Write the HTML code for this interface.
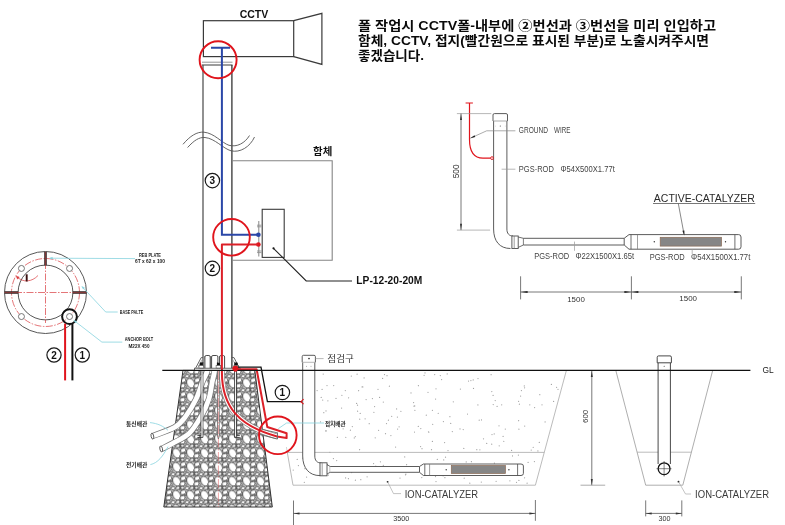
<!DOCTYPE html>
<html lang="ko"><head><meta charset="utf-8"><title>CCTV pole grounding diagram</title>
<style>
html,body{margin:0;padding:0;background:#fff;}
body{width:785px;height:525px;overflow:hidden;font-family:"Liberation Sans",sans-serif;}
svg{display:block;filter:blur(0.35px);}
</style></head><body>
<svg width="785" height="525" viewBox="0 0 785 525">
<rect width="785" height="525" fill="#fff"/>
<text x="358" y="29.6" font-size="13" font-family="'Liberation Sans', 'Noto Sans CJK KR', sans-serif" font-weight="bold" fill="#0a0a0a" textLength="358" lengthAdjust="spacingAndGlyphs">폴 작업시 CCTV폴-내부에 ②번선과 ③번선을 미리 인입하고</text>
<text x="358" y="44.9" font-size="13" font-family="'Liberation Sans', 'Noto Sans CJK KR', sans-serif" font-weight="bold" fill="#0a0a0a" textLength="351" lengthAdjust="spacingAndGlyphs">함체, CCTV, 접지(빨간원으로 표시된 부분)로 노출시켜주시면</text>
<text x="358" y="60.2" font-size="13" font-family="'Liberation Sans', 'Noto Sans CJK KR', sans-serif" font-weight="bold" fill="#0a0a0a" textLength="66" lengthAdjust="spacingAndGlyphs">좋겠습니다.</text>
<text x="254" y="17.8" font-size="10.5" font-family="Liberation Sans, sans-serif" font-weight="bold" fill="#111" text-anchor="middle" textLength="28.6" lengthAdjust="spacingAndGlyphs" >CCTV</text>
<rect x="203.4" y="20.7" width="90.3" height="35.9" stroke="#3a3a3a" stroke-width="1.2" fill="none" />
<path d="M293.7 20.7 L321.9 13.4 L321.9 64.4 L293.7 56.6" stroke="#3a3a3a" stroke-width="1.2" fill="none" />
<line x1="202" y1="62.2" x2="232.5" y2="62.2" stroke="#888" stroke-width="0.9" />
<line x1="202" y1="65" x2="232.5" y2="65" stroke="#3a3a3a" stroke-width="1" />
<line x1="203.0" y1="65" x2="203.0" y2="370" stroke="#555" stroke-width="1.3" />
<line x1="231.9" y1="65" x2="231.9" y2="370" stroke="#333" stroke-width="1.3" />
<path d="M183 144.3 C190 136 197 131.5 204 132.2 C214 133 222 143 229 145.3 C237 147.5 245 143 249.5 135.5" stroke="#555" stroke-width="0.9" fill="none" />
<path d="M187.6 147.5 C194 140.5 199 137 205 137.5 C215 138.5 223 148.5 231 150.8 C240 153 250 147 254.5 137" stroke="#555" stroke-width="0.9" fill="none" />
<path d="M231.9 160.7 L332.2 160.7 L332.2 260.3 L231.9 260.3" stroke="#858585" stroke-width="1.1" fill="none" />
<text x="313" y="155" font-size="10" font-family="'Liberation Sans', 'Noto Sans CJK KR', sans-serif" font-weight="bold" fill="#111" textLength="19.3" lengthAdjust="spacingAndGlyphs">함체</text>
<rect x="262.2" y="209.3" width="22" height="48.1" stroke="#3a3a3a" stroke-width="1.1" fill="#fff" />
<line x1="258.8" y1="221" x2="258.8" y2="256.5" stroke="#888" stroke-width="1" />
<line x1="257" y1="225.2" x2="261.5" y2="225.2" stroke="#888" stroke-width="0.8" />
<line x1="257" y1="226.8" x2="261.5" y2="226.8" stroke="#888" stroke-width="0.8" />
<line x1="257" y1="251" x2="261.5" y2="251" stroke="#888" stroke-width="0.8" />
<line x1="257" y1="252.6" x2="261.5" y2="252.6" stroke="#888" stroke-width="0.8" />
<circle cx="273.5" cy="248.3" r="1.1" stroke="#111" stroke-width="0" fill="#111" />
<path d="M273.5 248.3 L306.2 281 L352 281" stroke="#222" stroke-width="1.1" fill="none" />
<text x="356.3" y="284.1" font-size="10" font-family="Liberation Sans, sans-serif" font-weight="bold" fill="#111" text-anchor="start" textLength="66" lengthAdjust="spacingAndGlyphs" >LP-12-20-20M</text>
<path d="M211 47.8 H230.1 M221.9 47.8 V234.8 H258.4" stroke="#2b47a8" stroke-width="2.0" fill="none" />
<circle cx="258.4" cy="234.8" r="2.3" stroke="#2b47a8" stroke-width="0" fill="#2b47a8" />
<circle cx="258.4" cy="244.5" r="2.3" stroke="#e0141c" stroke-width="0" fill="#e0141c" />
<circle cx="212.4" cy="180.6" r="7.2" stroke="#1a1a1a" stroke-width="1.2" fill="#fff" />
<text x="212.4" y="184.2" font-size="10" font-family="Liberation Sans, sans-serif" font-weight="bold" fill="#111" text-anchor="middle" >3</text>
<circle cx="212.4" cy="268.4" r="7.2" stroke="#1a1a1a" stroke-width="1.2" fill="#fff" />
<text x="212.4" y="272.0" font-size="10" font-family="Liberation Sans, sans-serif" font-weight="bold" fill="#111" text-anchor="middle" >2</text>
<defs>
<pattern id="peb" x="3.2" y="-1.7" width="14" height="14" patternUnits="userSpaceOnUse">
<rect width="14" height="14" fill="#d4d4d4"/>
<g fill="#fff" stroke="#262626" stroke-width="0.72">
<ellipse cx="5.50" cy="7.00" rx="3.7" ry="5.2" transform="rotate(-28 5.50 7.00)"/>
<ellipse cx="19.50" cy="7.00" rx="3.7" ry="5.2" transform="rotate(-28 19.50 7.00)"/>
<ellipse cx="-2.00" cy="4.00" rx="2.8" ry="2.3" transform="rotate(-25 -2.00 4.00)"/>
<ellipse cx="12.00" cy="4.00" rx="2.8" ry="2.3" transform="rotate(-25 12.00 4.00)"/>
<ellipse cx="-2.60" cy="9.60" rx="2.8" ry="2.3" transform="rotate(-25 -2.60 9.60)"/>
<ellipse cx="11.40" cy="9.60" rx="2.8" ry="2.3" transform="rotate(-25 11.40 9.60)"/>
<ellipse cx="2.00" cy="-0.10" rx="2.1" ry="1.6" transform="rotate(-20 2.00 -0.10)"/>
<ellipse cx="2.00" cy="13.90" rx="2.1" ry="1.6" transform="rotate(-20 2.00 13.90)"/>
<ellipse cx="16.00" cy="-0.10" rx="2.1" ry="1.6" transform="rotate(-20 16.00 -0.10)"/>
<ellipse cx="16.00" cy="13.90" rx="2.1" ry="1.6" transform="rotate(-20 16.00 13.90)"/>
<ellipse cx="6.80" cy="-0.40" rx="2.2" ry="1.6" transform="rotate(-20 6.80 -0.40)"/>
<ellipse cx="6.80" cy="13.60" rx="2.2" ry="1.6" transform="rotate(-20 6.80 13.60)"/>
<ellipse cx="11.30" cy="-0.50" rx="1.9" ry="1.5" transform="rotate(-10 11.30 -0.50)"/>
<ellipse cx="11.30" cy="13.50" rx="1.9" ry="1.5" transform="rotate(-10 11.30 13.50)"/>
<ellipse cx="0.60" cy="10.60" rx="1.1" ry="0.9"/>
<ellipse cx="14.60" cy="10.60" rx="1.1" ry="0.9"/>
<ellipse cx="9.20" cy="1.20" rx="1.0" ry="0.8"/>
<ellipse cx="9.20" cy="15.20" rx="1.0" ry="0.8"/>
<ellipse cx="8.90" cy="11.80" rx="0.9" ry="0.8"/>
<ellipse cx="0.00" cy="6.90" rx="0.8" ry="0.7"/>
<ellipse cx="14.00" cy="6.90" rx="0.8" ry="0.7"/>
</g>
</pattern>
</defs>
<path d="M183 370.4 L254.8 370.4 L272.3 507 L163.8 507 Z" fill="url(#peb)" stroke="#333" stroke-width="1"/>
<path d="M221.9 356 V372 C221.9 407.9 240 426.4 277 436.5" fill="none" stroke="#888" stroke-width="5.6" stroke-linecap="butt"/>
<path d="M221.9 356 V372 C221.9 407.9 240 426.4 277 436.5" fill="none" stroke="#fff" stroke-width="4.2" stroke-linecap="butt"/>
<path d="M214.7 356.0 C214.7 358.3 215.1 365.6 214.7 370.0 C214.3 374.4 213.2 377.2 212.2 382.1 C211.2 387.0 210.7 393.5 208.8 399.2 C207.0 404.9 204.4 410.7 201.1 416.4 C197.8 422.1 193.8 429.0 189.1 433.5 C184.4 438.0 177.4 440.7 172.7 443.3 C168.0 445.9 162.9 448.3 161.0 449.3" fill="none" stroke="#777" stroke-width="6.2" stroke-linecap="butt"/>
<path d="M214.7 356.0 C214.7 358.3 215.1 365.6 214.7 370.0 C214.3 374.4 213.2 377.2 212.2 382.1 C211.2 387.0 210.7 393.5 208.8 399.2 C207.0 404.9 204.4 410.7 201.1 416.4 C197.8 422.1 193.8 429.0 189.1 433.5 C184.4 438.0 177.4 440.7 172.7 443.3 C168.0 445.9 162.9 448.3 161.0 449.3" fill="none" stroke="#fff" stroke-width="4.8" stroke-linecap="butt"/>
<path d="M207.5 356.0 C207.5 358.3 208.4 365.6 207.5 370.0 C206.6 374.4 204.2 377.2 202.3 382.1 C200.4 387.0 198.8 393.5 196.0 399.2 C193.2 404.9 189.2 411.7 185.7 416.4 C182.1 421.1 180.3 423.9 174.7 427.2 C169.1 430.5 155.9 434.7 152.2 436.2" fill="none" stroke="#777" stroke-width="6.2" stroke-linecap="butt"/>
<path d="M207.5 356.0 C207.5 358.3 208.4 365.6 207.5 370.0 C206.6 374.4 204.2 377.2 202.3 382.1 C200.4 387.0 198.8 393.5 196.0 399.2 C193.2 404.9 189.2 411.7 185.7 416.4 C182.1 421.1 180.3 423.9 174.7 427.2 C169.1 430.5 155.9 434.7 152.2 436.2" fill="none" stroke="#fff" stroke-width="4.8" stroke-linecap="butt"/>
<ellipse cx="152.4" cy="436.2" rx="1.3" ry="3" transform="rotate(-12 152.4 436.2)" fill="#fff" stroke="#555" stroke-width="0.9"/>
<ellipse cx="161.2" cy="449" rx="1.3" ry="3" transform="rotate(-12 161.2 449)" fill="#fff" stroke="#555" stroke-width="0.9"/>
<path d="M204.9 370 V357 Q204.9 355.5 206.20000000000002 355.5 H208.89999999999998 Q210.2 355.5 210.2 357 V370" fill="#fff" stroke="#4a4a4a" stroke-width="1"/>
<path d="M211.6 370 V357 Q211.6 355.5 212.9 355.5 H216.6 Q217.9 355.5 217.9 357 V370" fill="#fff" stroke="#4a4a4a" stroke-width="1"/>
<path d="M219.6 370 V357 Q219.6 355.5 220.9 355.5 H223.29999999999998 Q224.6 355.5 224.6 357 V370" fill="#fff" stroke="#4a4a4a" stroke-width="1"/>
<path d="M202.9 362 V437.4 H197.4" fill="none" stroke="#333" stroke-width="0.9"/>
<path d="M201.1 362 V435.4 H197.4" fill="none" stroke="#333" stroke-width="0.9"/>
<rect x="201.5" y="371" width="1" height="65.5" fill="#fff"/>
<path d="M234.5 362 V437.4 H239.8" fill="none" stroke="#333" stroke-width="0.9"/>
<path d="M236.3 362 V435.4 H239.8" fill="none" stroke="#333" stroke-width="0.9"/>
<rect x="234.9" y="371" width="1" height="65.5" fill="#fff"/>
<path d="M217.5 362 V436 L218.4 439 L219.3 436 V362" fill="#fff" stroke="#555" stroke-width="0.7"/>
<line x1="218.4" y1="371" x2="218.4" y2="507" stroke="#e06a6c" stroke-width="0.6" stroke-dasharray="9 1.5 1.5 1.5"/>
<path d="M195.6 368.2 L201.2 357.6 H203 M231.6 357.6 H234 L239.4 368.2" stroke="#555" stroke-width="0.9" fill="none" />
<path d="M197.6 368.2 L202.3 359.4 M232.6 359.4 L237.4 368.2" stroke="#888" stroke-width="0.7" fill="none" />
<rect x="194.6" y="368.2" width="45.6" height="2.2" stroke="#444" stroke-width="0.8" fill="#fff" />
<rect x="199.8" y="362.6" width="3" height="3" fill="#111"/>
<rect x="199.0" y="365.6" width="4.6" height="2.4" fill="#fff" stroke="#555" stroke-width="0.6"/>
<rect x="216.9" y="362.6" width="3" height="3" fill="#111"/>
<rect x="216.1" y="365.6" width="4.6" height="2.4" fill="#fff" stroke="#555" stroke-width="0.6"/>
<rect x="234.7" y="362.6" width="3" height="3" fill="#111"/>
<rect x="233.89999999999998" y="365.6" width="4.6" height="2.4" fill="#fff" stroke="#555" stroke-width="0.6"/>
<path d="M258.4 244.5 H221.9 V372 C221.9 407.9 240 426.4 277 436.5 L286.6 438 V433.3 L267.3 427 L256.6 369.2 H235.4" stroke="#dc2028" stroke-width="2.0" fill="none" stroke-linejoin="round"/>
<path d="M260.5 429 L277.6 432.9 M261.5 434.9 L277.2 439 M277.5 432.6 V439.2" stroke="#666" stroke-width="0.9" fill="none" />
<path d="M235.4 367.2 H261 L267.4 401.7 H302" stroke="#111" stroke-width="1.3" fill="none" />
<circle cx="235.4" cy="368.6" r="2.8" stroke="#e0141c" stroke-width="0" fill="#e0141c" />
<circle cx="282.4" cy="392.5" r="7.2" stroke="#1a1a1a" stroke-width="1.2" fill="#fff" />
<text x="282.4" y="396.1" font-size="10" font-family="Liberation Sans, sans-serif" font-weight="bold" fill="#111" text-anchor="middle" >1</text>
<path d="M150 422.6 C158 423.5 163 426 168 430.3" stroke="#86d3de" stroke-width="0.8" fill="none" />
<path d="M150.4 464.6 C158 463 163 456 168 446.7" stroke="#86d3de" stroke-width="0.8" fill="none" />
<text x="126" y="426.2" font-size="5.4" font-family="'Liberation Sans', 'Noto Sans CJK KR', sans-serif" font-weight="bold" fill="#1a1a1a" textLength="21.3" lengthAdjust="spacingAndGlyphs">통신배관</text>
<text x="126" y="467.2" font-size="5.4" font-family="'Liberation Sans', 'Noto Sans CJK KR', sans-serif" font-weight="bold" fill="#1a1a1a" textLength="21.3" lengthAdjust="spacingAndGlyphs">전기배관</text>
<text x="325" y="425.9" font-size="5.4" font-family="'Liberation Sans', 'Noto Sans CJK KR', sans-serif" font-weight="bold" fill="#1a1a1a" textLength="20.6" lengthAdjust="spacingAndGlyphs">접지배관</text>
<circle cx="45.5" cy="292.5" r="41" stroke="#444" stroke-width="0.9" fill="none" />
<circle cx="45.5" cy="292.5" r="27.4" stroke="#444" stroke-width="0.9" fill="none" />
<circle cx="45.5" cy="292.5" r="34" stroke="#d83a3e" stroke-width="0.7" fill="none" stroke-dasharray="7 1.5 1.5 1.5"/>
<line x1="45.5" y1="262" x2="45.5" y2="323" stroke="#d83a3e" stroke-width="0.7" stroke-dasharray="7 1.5 1.5 1.5"/>
<line x1="15" y1="292.5" x2="76" y2="292.5" stroke="#d83a3e" stroke-width="0.7" stroke-dasharray="7 1.5 1.5 1.5"/>
<line x1="45.5" y1="251.8" x2="45.5" y2="265.4" stroke="#3a2a2a" stroke-width="2.6" />
<line x1="45.5" y1="251.8" x2="45.5" y2="265.4" stroke="#b04040" stroke-width="0.6" />
<line x1="4.6" y1="292.5" x2="18.2" y2="292.5" stroke="#3a2a2a" stroke-width="2.6" />
<line x1="4.6" y1="292.5" x2="18.2" y2="292.5" stroke="#b04040" stroke-width="0.6" />
<line x1="72.8" y1="292.5" x2="86.4" y2="292.5" stroke="#3a2a2a" stroke-width="2.6" />
<line x1="72.8" y1="292.5" x2="86.4" y2="292.5" stroke="#b04040" stroke-width="0.6" />
<circle cx="21.45" cy="268.45" r="3" stroke="#555" stroke-width="0.8" fill="#fff" />
<circle cx="69.55" cy="268.45" r="3" stroke="#555" stroke-width="0.8" fill="#fff" />
<circle cx="21.45" cy="316.55" r="3" stroke="#555" stroke-width="0.8" fill="#fff" />
<circle cx="69.55" cy="316.55" r="3" stroke="#555" stroke-width="0.8" fill="#fff" />
<path d="M38 275.5 C32 282 23 283 16.5 276.5" stroke="#d83a3e" stroke-width="0.7" fill="none" />
<path d="M16.2 276.2 L19.3 277 L17.5 279.2 Z" stroke="#d83a3e" stroke-width="0.4" fill="#d83a3e" />
<line x1="26.7" y1="274.3" x2="26.7" y2="281.5" stroke="#3a1010" stroke-width="1.9" />
<circle cx="69.5" cy="316.6" r="7.4" stroke="#111" stroke-width="2" fill="none" />
<line x1="65.1" y1="323.6" x2="65.1" y2="380.4" stroke="#e0141c" stroke-width="2" />
<line x1="72.4" y1="323.6" x2="72.4" y2="380.4" stroke="#111" stroke-width="2" />
<circle cx="54" cy="355" r="7.1" stroke="#1a1a1a" stroke-width="1.2" fill="#fff" />
<text x="54" y="358.6" font-size="10" font-family="Liberation Sans, sans-serif" font-weight="bold" fill="#111" text-anchor="middle" >2</text>
<circle cx="82.3" cy="355" r="7.1" stroke="#1a1a1a" stroke-width="1.2" fill="#fff" />
<text x="82.3" y="358.6" font-size="10" font-family="Liberation Sans, sans-serif" font-weight="bold" fill="#111" text-anchor="middle" >1</text>
<path d="M49.8 258.2 L135 258.6" stroke="#86d3de" stroke-width="0.8" fill="none" />
<path d="M82 286.6 L105.7 312 H117.7" stroke="#86d3de" stroke-width="0.8" fill="none" />
<path d="M73.9 320.4 L101.9 342.1 H122.3" stroke="#86d3de" stroke-width="0.8" fill="none" />
<path d="M49.8 258.2 l2.6 -0.9 v1.9 z M82 286.6 l2.5 1.2 l-1.4 1.3 z M73.9 320.4 l2.7 0.8 l-1.2 1.5 z" stroke="#86d3de" stroke-width="0.4" fill="#86d3de" />
<text x="150" y="256.8" font-size="5.4" font-family="Liberation Sans, sans-serif" font-weight="bold" fill="#222" text-anchor="middle" textLength="22" lengthAdjust="spacingAndGlyphs" >REB PLATE</text>
<text x="150" y="263.2" font-size="5.4" font-family="Liberation Sans, sans-serif" font-weight="bold" fill="#222" text-anchor="middle" textLength="30" lengthAdjust="spacingAndGlyphs" >6T x 62 x 100</text>
<text x="131.5" y="314" font-size="5.4" font-family="Liberation Sans, sans-serif" font-weight="bold" fill="#222" text-anchor="middle" textLength="23.5" lengthAdjust="spacingAndGlyphs" >BASE PALTE</text>
<text x="139" y="341.3" font-size="5.4" font-family="Liberation Sans, sans-serif" font-weight="bold" fill="#222" text-anchor="middle" textLength="28.5" lengthAdjust="spacingAndGlyphs" >ANCHOR BOLT</text>
<text x="139" y="347.8" font-size="5.4" font-family="Liberation Sans, sans-serif" font-weight="bold" fill="#222" text-anchor="middle" textLength="21" lengthAdjust="spacingAndGlyphs" >M22X 450</text>
<text x="762.6" y="372.5" font-size="9.4" font-family="Liberation Sans, sans-serif" font-weight="normal" fill="#222" text-anchor="start" textLength="11.2" lengthAdjust="spacingAndGlyphs" >GL</text>
<path d="M378.0 389.3h0M470.9 380.6h0M438.2 413.3h0M406.6 464.7h0M321.2 397.4h0M464.2 478.2h0M449.9 416.7h0M529.8 404.8h0M327.0 385.6h0M373.6 463.5h0M337.3 437.3h0M467.5 414.0h0M441.6 379.5h0M479.2 420.2h0M375.2 437.8h0M414.7 405.9h0M511.6 450.4h0M355.3 436.5h0M435.2 470.1h0M493.2 404.6h0M404.7 456.9h0M329.2 427.0h0M503.1 436.4h0M534.6 407.5h0M483.5 438.8h0M450.7 423.4h0M524.6 477.8h0M420.6 446.6h0M469.8 483.2h0M519.4 404.2h0M395.6 447.1h0M333.7 385.6h0M302.7 458.2h0M322.7 400.1h0M397.0 469.7h0M442.0 471.0h0M518.7 468.8h0M365.1 418.8h0M387.9 471.1h0M558.0 389.3h0M336.0 398.4h0M352.3 426.6h0M453.3 401.8h0M390.9 435.6h0M432.4 441.4h0M478.0 378.5h0M534.4 461.5h0M397.4 417.0h0M345.3 390.6h0M382.6 378.4h0M293.2 470.0h0M460.4 389.1h0M357.6 411.2h0M389.4 386.2h0M527.1 483.2h0M418.3 426.4h0M383.3 402.0h0M521.4 390.5h0M436.0 388.8h0M440.3 375.5h0M436.0 481.6h0M531.2 450.1h0M360.2 413.4h0M333.4 458.6h0M437.3 459.4h0M379.6 397.4h0M516.5 482.3h0M528.1 462.4h0M518.4 455.0h0M350.4 430.2h0M387.0 375.7h0M359.6 449.7h0M348.6 397.8h0M341.9 395.3h0M463.2 472.9h0M524.7 426.0h0M471.4 461.7h0M499.0 425.8h0M336.7 460.5h0M380.4 461.8h0M400.0 478.1h0M491.8 391.5h0M322.1 389.4h0M327.5 464.7h0M385.5 433.7h0M323.2 374.1h0M435.5 476.6h0M409.2 469.7h0M520.6 396.0h0M357.5 405.2h0M354.3 437.9h0M359.7 419.2h0M323.2 474.0h0M386.5 423.6h0M451.7 473.3h0M405.5 474.8h0M428.5 431.8h0M434.7 374.6h0M411.0 392.9h0M334.9 425.3h0M492.0 434.5h0M378.6 430.3h0M443.7 459.9h0M356.6 403.4h0M505.3 429.1h0M445.5 457.2h0M545.1 421.9h0M460.0 428.9h0M431.5 449.7h0M414.5 432.0h0M421.8 477.5h0M484.6 470.2h0M553.6 401.4h0M444.9 477.7h0M524.6 387.8h0M320.5 421.8h0M508.6 472.5h0M329.9 452.3h0M473.5 388.4h0M348.4 478.7h0M399.1 426.8h0M331.9 420.6h0M432.4 410.3h0M341.6 408.0h0M491.1 374.7h0M443.4 421.6h0M463.2 429.6h0M304.3 482.3h0M509.9 480.8h0M297.2 459.4h0M362.8 386.9h0M405.9 474.1h0M518.6 401.3h0M328.4 475.0h0M448.0 450.6h0M481.5 419.9h0M306.6 477.1h0M466.2 461.9h0M309.8 468.0h0M304.9 468.7h0M414.9 410.3h0M443.1 475.8h0M362.1 386.9h0M435.6 399.1h0M317.1 390.5h0M374.6 406.5h0M501.7 404.8h0M428.0 392.3h0M384.5 374.5h0M357.1 374.2h0M494.2 433.9h0M339.8 425.4h0M551.4 384.4h0M518.6 420.7h0M426.6 465.6h0M397.6 429.0h0M481.3 482.0h0M383.3 465.3h0M486.7 443.4h0M400.9 411.3h0M306.1 455.1h0M358.6 390.7h0M310.0 466.3h0M533.2 447.3h0M366.1 399.5h0M369.2 423.7h0M330.7 422.2h0M360.8 479.7h0M355.4 480.2h0M373.9 412.3h0M420.8 428.6h0M343.1 428.8h0M372.4 398.5h0M452.3 431.5h0M499.2 445.8h0M489.3 470.5h0M396.6 408.9h0M491.7 444.2h0M298.4 465.6h0M539.3 442.4h0M494.4 463.1h0M325.6 430.9h0M429.2 465.6h0M514.5 464.6h0M451.9 472.1h0M479.9 449.8h0M351.3 376.0h0M323.8 412.7h0M315.8 465.7h0M444.6 442.5h0M463.8 448.4h0M425.0 372.9h0M512.5 455.9h0M428.8 432.2h0M473.2 379.9h0M495.2 400.6h0M493.1 395.4h0M496.1 481.3h0M426.3 415.2h0M422.0 448.7h0M503.8 441.3h0M468.5 381.1h0M327.9 400.8h0M497.1 406.4h0M447.2 373.9h0M476.8 449.7h0M477.9 404.9h0M432.7 424.3h0M418.4 385.7h0M539.8 394.7h0M518.9 480.4h0M413.6 402.5h0M345.6 477.9h0M345.8 437.3h0M326.3 430.9h0M556.6 387.3h0M518.9 429.2h0M537.9 450.9h0M351.7 472.6h0M424.1 375.3h0M414.0 406.2h0M326.0 410.9h0M375.8 466.2h0M524.3 385.9h0M542.0 404.8h0M391.7 416.3h0M388.4 420.2h0M364.1 377.9h0M314.9 465.6h0M367.1 476.8h0" stroke="#a2a2a2" stroke-width="1.25" stroke-linecap="round" fill="none"/>
<path d="M566.4 370.4 L535.4 485.2 H293 L287.3 452.4" stroke="#aaa" stroke-width="0.8" fill="none" />
<line x1="287.3" y1="452.4" x2="544.2" y2="452.4" stroke="#aaa" stroke-width="0.8" />
<path d="M287.3 452.4 L286.4 447" stroke="#bbb" stroke-width="0.6" fill="none" />
<path d="M302.7 362.3 V456 C302.7 468 309 475.6 320 475.6 H327 V463 H321.5 C317 463 314.8 460 314.8 456 V362.3 Z" fill="#fff" stroke="none"/>
<path d="M302.7 362.3 V456 C302.7 468 309 475.6 320 475.6" stroke="#4a4a4a" stroke-width="0.9" fill="none" />
<path d="M314.8 362.3 V456 C314.8 460.5 317 463 321.5 463" stroke="#4a4a4a" stroke-width="0.9" fill="none" />
<path d="M302.2 362.3 V356.6 Q302.2 355.3 303.5 355.3 H314 Q315.4 355.3 315.4 356.6 V362.3" fill="#fff" stroke="#4a4a4a" stroke-width="0.9"/>
<line x1="302.2" y1="362.3" x2="315.4" y2="362.3" stroke="#999" stroke-width="0.7" />
<circle cx="309" cy="358.6" r="0.8" stroke="#222" stroke-width="0" fill="#222" />
<circle cx="306.6" cy="366.2" r="0.45" stroke="#666" stroke-width="0" fill="#666" />
<circle cx="311" cy="366.2" r="0.45" stroke="#666" stroke-width="0" fill="#666" />
<line x1="315.4" y1="358.6" x2="323.6" y2="358.6" stroke="#999" stroke-width="0.7" />
<text x="327.3" y="362" font-size="9" font-family="'Liberation Sans', 'Noto Sans CJK KR', sans-serif" fill="#333" textLength="26.5" lengthAdjust="spacingAndGlyphs">점검구</text>
<rect x="320" y="462.8" width="7" height="13" fill="#fff" stroke="#4a4a4a" stroke-width="0.9"/>
<line x1="322.2" y1="462.8" x2="322.2" y2="475.8" stroke="#777" stroke-width="0.7" />
<path d="M327 464.6 L330.2 466.5 M327 474 L330.2 472.3" stroke="#4a4a4a" stroke-width="0.8" fill="none" />
<line x1="330.2" y1="466.5" x2="330.2" y2="472.3" stroke="#4a4a4a" stroke-width="0.7" />
<rect x="330.2" y="466.5" width="89.3" height="5.8" fill="#fff" stroke="none"/>
<line x1="330.2" y1="466.5" x2="419.5" y2="466.5" stroke="#4a4a4a" stroke-width="0.9" />
<line x1="330.2" y1="472.3" x2="419.5" y2="472.3" stroke="#4a4a4a" stroke-width="0.9" />
<path d="M419.5 466.5 L423.4 464 H521 Q523.4 464 523.4 466 V473.4 Q523.4 475.5 521 475.5 H423.4 L419.5 472.3 Z" fill="#fff" stroke="#4a4a4a" stroke-width="0.9"/>
<line x1="424.8" y1="464" x2="424.8" y2="475.5" stroke="#4a4a4a" stroke-width="0.8" />
<line x1="429.6" y1="464" x2="429.6" y2="475.5" stroke="#777" stroke-width="0.7" />
<line x1="517.6" y1="464" x2="517.6" y2="475.5" stroke="#4a4a4a" stroke-width="0.8" />
<rect x="451.3" y="465.5" width="54.1" height="8" stroke="#8a6a55" stroke-width="0.7" fill="#868686" />
<circle cx="446.2" cy="469.7" r="0.7" stroke="#333" stroke-width="0" fill="#333" />
<circle cx="508.9" cy="469.7" r="0.7" stroke="#333" stroke-width="0" fill="#333" />
<circle cx="387.6" cy="481.8" r="0.9" stroke="#111" stroke-width="0" fill="#111" />
<path d="M387.6 481.8 L393.5 493.6 H401" stroke="#aaa" stroke-width="0.7" fill="none" />
<text x="404.7" y="497.8" font-size="10.4" font-family="Liberation Sans, sans-serif" font-weight="normal" fill="#3a3a3a" text-anchor="start" textLength="73.4" lengthAdjust="spacingAndGlyphs" >ION-CATALYZER</text>
<line x1="293.5" y1="500.5" x2="293.5" y2="525" stroke="#555" stroke-width="0.8" />
<line x1="535.4" y1="500" x2="535.4" y2="520.8" stroke="#555" stroke-width="0.8" />
<line x1="293.5" y1="513.4" x2="535.4" y2="513.4" stroke="#555" stroke-width="0.8" />
<path d="M293.50 513.40 L299.50 512.40 L299.50 514.40 Z" fill="#333"/>
<path d="M535.40 513.40 L529.40 514.40 L529.40 512.40 Z" fill="#333"/>
<text x="393.3" y="521" font-size="7.3" font-family="Liberation Sans, sans-serif" font-weight="normal" fill="#333" text-anchor="start" textLength="16.1" lengthAdjust="spacingAndGlyphs" >3500</text>
<line x1="591.8" y1="370.4" x2="591.8" y2="485.2" stroke="#555" stroke-width="0.8" />
<line x1="580.5" y1="485.2" x2="605.2" y2="485.2" stroke="#888" stroke-width="0.7" />
<path d="M591.80 370.90 L592.80 376.90 L590.80 376.90 Z" fill="#333"/>
<path d="M591.80 485.00 L590.80 479.00 L592.80 479.00 Z" fill="#333"/>
<text transform="translate(587.6 423) rotate(-90)" font-size="7.6" font-family="Liberation Sans, sans-serif" fill="#333" textLength="13.2" lengthAdjust="spacingAndGlyphs">600</text>
<path d="M615.8 370.4 L645.7 485.2 H682.8 L712.7 370.4" stroke="#999" stroke-width="0.8" fill="none" />
<line x1="637" y1="452.2" x2="691.6" y2="452.2" stroke="#aaa" stroke-width="0.8" />
<rect x="658.1" y="362.8" width="12.3" height="101" fill="#fff" stroke="none"/>
<line x1="658.1" y1="362.8" x2="658.1" y2="464" stroke="#333" stroke-width="0.9" />
<line x1="670.4" y1="362.8" x2="670.4" y2="464" stroke="#333" stroke-width="0.9" />
<path d="M657.2 362.8 V357.2 Q657.2 355.9 658.6 355.9 H670 Q671.4 355.9 671.4 357.2 V362.8 Z" fill="#fff" stroke="#333" stroke-width="0.9"/>
<circle cx="664.2" cy="366.3" r="0.55" stroke="#444" stroke-width="0" fill="#444" />
<circle cx="664.1" cy="468.7" r="5.9" stroke="#111" stroke-width="1.3" fill="#fff" />
<line x1="656.5" y1="468.7" x2="671.5" y2="468.7" stroke="#333" stroke-width="0.6" />
<line x1="664.1" y1="461" x2="664.1" y2="476.5" stroke="#333" stroke-width="0.6" />
<circle cx="678.5" cy="481.7" r="0.9" stroke="#111" stroke-width="0" fill="#111" />
<path d="M678.5 481.7 L685.5 494 H691" stroke="#aaa" stroke-width="0.7" fill="none" />
<text x="695.1" y="497.8" font-size="10.4" font-family="Liberation Sans, sans-serif" font-weight="normal" fill="#3a3a3a" text-anchor="start" textLength="74" lengthAdjust="spacingAndGlyphs" >ION-CATALYZER</text>
<line x1="645.7" y1="500.4" x2="645.7" y2="516.4" stroke="#555" stroke-width="0.8" />
<line x1="681.8" y1="500.4" x2="681.8" y2="516.4" stroke="#555" stroke-width="0.8" />
<line x1="645.7" y1="513.4" x2="681.8" y2="513.4" stroke="#555" stroke-width="0.8" />
<path d="M645.70 513.40 L651.70 512.40 L651.70 514.40 Z" fill="#333"/>
<path d="M681.80 513.40 L675.80 514.40 L675.80 512.40 Z" fill="#333"/>
<text x="658.4" y="521" font-size="7.3" font-family="Liberation Sans, sans-serif" font-weight="normal" fill="#333" text-anchor="start" textLength="12" lengthAdjust="spacingAndGlyphs" >300</text>
<path d="M493.6 121 V229 C493.6 241 499.5 248.5 510.5 248.5 H518.2 V236 H513 C509 236 506.9 233.4 506.9 229 V121 Z" fill="#fff" stroke="none"/>
<path d="M493.6 121 V229 C493.6 241 499.5 248.5 510.5 248.5" stroke="#4a4a4a" stroke-width="0.9" fill="none" />
<path d="M506.9 121 V229 C506.9 233.4 509 236 513 236" stroke="#4a4a4a" stroke-width="0.9" fill="none" />
<path d="M493 121 V115 Q493 113.6 494.4 113.6 H506.1 Q507.5 113.6 507.5 115 V121" fill="#fff" stroke="#4a4a4a" stroke-width="0.9"/>
<line x1="493" y1="121" x2="507.5" y2="121" stroke="#888" stroke-width="0.7" />
<circle cx="500.3" cy="126" r="0.55" stroke="#444" stroke-width="0" fill="#444" />
<circle cx="495.3" cy="126" r="0.35" stroke="#777" stroke-width="0" fill="#777" />
<circle cx="505.2" cy="126" r="0.35" stroke="#777" stroke-width="0" fill="#777" />
<rect x="511.9" y="236" width="6.3" height="12.5" fill="#fff" stroke="#4a4a4a" stroke-width="0.9"/>
<line x1="514.2" y1="236" x2="514.2" y2="248.5" stroke="#777" stroke-width="0.7" />
<path d="M518.2 237 L523.4 238.3 M518.2 247.4 L523.4 245" stroke="#4a4a4a" stroke-width="0.8" fill="none" />
<line x1="523.4" y1="238.3" x2="523.4" y2="245" stroke="#4a4a4a" stroke-width="0.7" />
<line x1="523.4" y1="238.3" x2="624.2" y2="238.3" stroke="#4a4a4a" stroke-width="0.9" />
<line x1="523.4" y1="245" x2="624.2" y2="245" stroke="#4a4a4a" stroke-width="0.9" />
<path d="M624.2 238.3 L629 234.6 H738.6 Q741 234.6 741 237 V246.8 Q741 249.2 738.6 249.2 H629 L624.2 245 Z" fill="#fff" stroke="#4a4a4a" stroke-width="0.9"/>
<line x1="631" y1="234.6" x2="631" y2="249.2" stroke="#4a4a4a" stroke-width="0.8" />
<line x1="637.5" y1="234.6" x2="637.5" y2="249.2" stroke="#777" stroke-width="0.7" />
<line x1="734.9" y1="234.6" x2="734.9" y2="249.2" stroke="#4a4a4a" stroke-width="0.8" />
<rect x="660.2" y="237.3" width="61.3" height="8.8" stroke="#8a6a55" stroke-width="0.7" fill="#868686" />
<circle cx="654.3" cy="241.8" r="0.7" stroke="#333" stroke-width="0" fill="#333" />
<circle cx="725.5" cy="241.8" r="0.7" stroke="#333" stroke-width="0" fill="#333" />
<path d="M465.6 103 H472.9 M469.5 103 V139.5 C469.5 152 474 158.1 483 158.1 H490.6" stroke="#e0141c" stroke-width="1.2" fill="none" />
<circle cx="492" cy="158.1" r="1.4" stroke="#e0141c" stroke-width="0.9" fill="none" />
<path d="M470.3 138.2 L486.7 130.8 H515.4" stroke="#888" stroke-width="0.7" fill="none" />
<path d="M470.30 138.20 L474.45 135.23 L475.27 137.05 Z" fill="#222"/>
<text x="518.8" y="133.3" font-size="8.6" font-family="Liberation Sans, sans-serif" font-weight="normal" fill="#444" text-anchor="start" textLength="29.2" lengthAdjust="spacingAndGlyphs" >GROUND</text>
<text x="554.1" y="133.3" font-size="8.6" font-family="Liberation Sans, sans-serif" font-weight="normal" fill="#444" text-anchor="start" textLength="16.4" lengthAdjust="spacingAndGlyphs" >WIRE</text>
<line x1="501.6" y1="169.2" x2="515.4" y2="169.2" stroke="#999" stroke-width="0.7" />
<text x="518.8" y="171.6" font-size="8.4" font-family="Liberation Sans, sans-serif" font-weight="normal" fill="#444" text-anchor="start" textLength="35" lengthAdjust="spacingAndGlyphs" >PGS-ROD</text>
<text x="560.4" y="171.6" font-size="8.4" font-family="Liberation Sans, sans-serif" font-weight="normal" fill="#444" text-anchor="start" textLength="54.4" lengthAdjust="spacingAndGlyphs" >Φ54X500X1.77t</text>
<line x1="574.5" y1="241.6" x2="574.5" y2="250.8" stroke="#999" stroke-width="0.7" />
<text x="534.2" y="259.2" font-size="8.4" font-family="Liberation Sans, sans-serif" font-weight="normal" fill="#444" text-anchor="start" textLength="35" lengthAdjust="spacingAndGlyphs" >PGS-ROD</text>
<text x="575.4" y="259.2" font-size="8.4" font-family="Liberation Sans, sans-serif" font-weight="normal" fill="#444" text-anchor="start" textLength="58.7" lengthAdjust="spacingAndGlyphs" >Φ22X1500X1.65t</text>
<line x1="692.2" y1="249.2" x2="692.2" y2="254" stroke="#999" stroke-width="0.7" />
<text x="649.7" y="260.2" font-size="8.4" font-family="Liberation Sans, sans-serif" font-weight="normal" fill="#444" text-anchor="start" textLength="35" lengthAdjust="spacingAndGlyphs" >PGS-ROD</text>
<text x="691" y="260.2" font-size="8.4" font-family="Liberation Sans, sans-serif" font-weight="normal" fill="#444" text-anchor="start" textLength="59.3" lengthAdjust="spacingAndGlyphs" >Φ54X1500X1.77t</text>
<text x="653.8" y="201.6" font-size="10.4" font-family="Liberation Sans, sans-serif" font-weight="normal" fill="#2a2a2a" text-anchor="start" textLength="101" lengthAdjust="spacingAndGlyphs" >ACTIVE-CATALYZER</text>
<line x1="653" y1="203.5" x2="755.2" y2="203.5" stroke="#555" stroke-width="0.8" />
<line x1="678.3" y1="203.5" x2="684" y2="234" stroke="#555" stroke-width="0.7" />
<path d="M684.30 235.60 L682.41 230.87 L684.37 230.50 Z" fill="#222"/>
<line x1="456.9" y1="113.6" x2="491.3" y2="113.6" stroke="#999" stroke-width="0.7" />
<line x1="456.9" y1="230.1" x2="490.1" y2="230.1" stroke="#999" stroke-width="0.7" />
<line x1="461" y1="113.6" x2="461" y2="230.1" stroke="#555" stroke-width="0.8" />
<path d="M461.00 114.00 L462.00 120.00 L460.00 120.00 Z" fill="#333"/>
<path d="M461.00 229.80 L460.00 223.80 L462.00 223.80 Z" fill="#333"/>
<text transform="translate(459.4 178.3) rotate(-90)" font-size="8.4" font-family="Liberation Sans, sans-serif" fill="#333" textLength="13.8" lengthAdjust="spacingAndGlyphs">500</text>
<line x1="520.6" y1="276.3" x2="520.6" y2="299.4" stroke="#555" stroke-width="0.8" />
<line x1="631.4" y1="276.3" x2="631.4" y2="299.4" stroke="#555" stroke-width="0.8" />
<line x1="741.3" y1="276.3" x2="741.3" y2="299.4" stroke="#555" stroke-width="0.8" />
<line x1="520.6" y1="292" x2="741.3" y2="292" stroke="#555" stroke-width="0.8" />
<path d="M520.60 292.00 L527.60 291.00 L527.60 293.00 Z" fill="#222"/>
<path d="M631.40 292.00 L624.40 293.00 L624.40 291.00 Z" fill="#222"/>
<path d="M631.40 292.00 L638.40 291.00 L638.40 293.00 Z" fill="#222"/>
<path d="M741.30 292.00 L734.30 293.00 L734.30 291.00 Z" fill="#222"/>
<text x="567.2" y="301.6" font-size="8.1" font-family="Liberation Sans, sans-serif" font-weight="normal" fill="#333" text-anchor="start" textLength="17.6" lengthAdjust="spacingAndGlyphs" >1500</text>
<text x="679.3" y="300.8" font-size="8.1" font-family="Liberation Sans, sans-serif" font-weight="normal" fill="#333" text-anchor="start" textLength="17.7" lengthAdjust="spacingAndGlyphs" >1500</text>
<path d="M278.3 428.6 L286.6 423 H324" stroke="#86d3de" stroke-width="0.8" fill="none" />
<line x1="162.3" y1="370.4" x2="750.4" y2="370.4" stroke="#111" stroke-width="1.2" />
<circle cx="235.4" cy="368.6" r="2.8" stroke="#e0141c" stroke-width="0" fill="#e0141c" />
<path d="M303.6 399.2 L300.9 401.7 L303.6 404.2" stroke="#e0141c" stroke-width="1.1" fill="none" />
<circle cx="218.1" cy="59.8" r="18.5" stroke="#e0141c" stroke-width="1.9" fill="none" />
<circle cx="231.5" cy="237.3" r="18.3" stroke="#e0141c" stroke-width="1.9" fill="none" />
<circle cx="277.8" cy="435.3" r="18.8" stroke="#e0141c" stroke-width="1.9" fill="none" />
</svg>
</body></html>
